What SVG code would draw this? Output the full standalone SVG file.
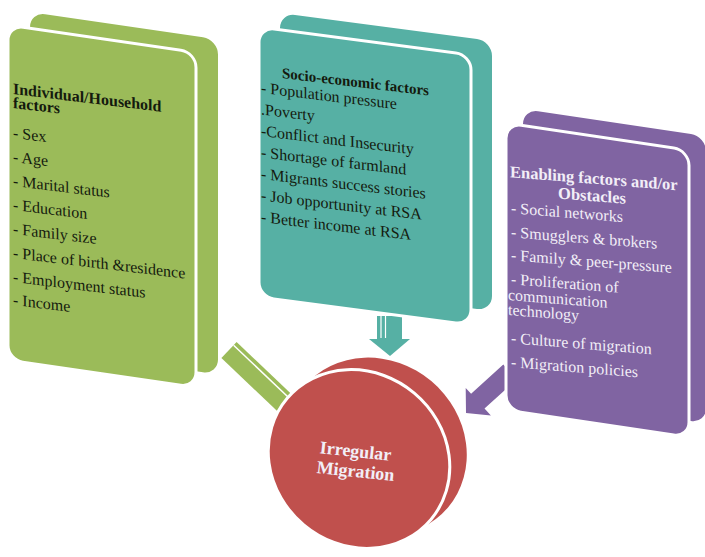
<svg xmlns="http://www.w3.org/2000/svg" width="705" height="557" viewBox="0 0 705 557">
  <style>
    .txt { font-family: "Liberation Serif", "Times New Roman", serif; font-size: 16px; }
    .head { font-weight: bold; }
    .dark { fill: #141a0e; }
    .light { fill: #f2eef7; }
    .green { fill: #9bbb59; }
    .teal { fill: #56b0a4; }
    .purple { fill: #8064a2; }
    .red { fill: #c0504d; }
    .face { stroke: #ffffff; stroke-width: 3; }
  </style>
  <rect width="705" height="557" fill="#ffffff"/>

  <!-- connectors: arrows leading into the central disc -->
  <g id="connectors">
    <g id="arrow-green">
      <polygon class="green" points="236.6,342 221.4,358 282.4,416 297.6,400"/>
      <line x1="233.6" y1="345.2" x2="294.6" y2="403.2" stroke="#ffffff" stroke-width="1.5"/>
    </g>
    <g id="arrow-teal">
      <rect class="teal" x="377" y="316" width="25" height="25"/>
      <polygon class="teal" points="369,339 410,339 390,356"/>
      <line x1="381" y1="316" x2="381" y2="338" stroke="#ffffff" stroke-width="1.2"/>
      <line x1="385.5" y1="316" x2="385.5" y2="338" stroke="#ffffff" stroke-width="1.2"/>
    </g>
    <g id="arrow-purple">
      <polygon class="purple" points="503.3,364.6 471.1,393.8 465.7,387.9 466,413 490.9,415.5 484.5,408.6 516.7,379.4"/>
    </g>
  </g>

  <!-- individual / household factors -->
  <g id="node-individual">
    <rect class="green" transform="translate(30,12) skewY(8.3)" width="188" height="335" rx="15"/>
    <rect class="green face" transform="translate(8,25) skewY(8.3)" width="188" height="335" rx="15"/>
    <g class="txt dark" transform="translate(13,0) skewY(6.8)">
      <text class="head" x="0" y="94">Individual/Household</text>
      <text class="head" x="0" y="108">factors</text>
      <text x="0" y="138">- Sex</text>
      <text x="0" y="162">- Age</text>
      <text x="0" y="186">- Marital status</text>
      <text x="0" y="210">- Education</text>
      <text x="0" y="234">- Family size</text>
      <text x="0" y="258">- Place of birth &amp;residence</text>
      <text x="0" y="282">- Employment status</text>
      <text x="0" y="305">- Income</text>
    </g>
  </g>

  <!-- socio-economic factors -->
  <g id="node-socio">
    <rect class="teal" transform="translate(280,13) skewY(7.5)" width="212" height="270" rx="15"/>
    <rect class="teal face" transform="translate(259,27) skewY(7.5)" width="212" height="270" rx="15"/>
    <g class="txt dark" transform="translate(261,0) skewY(6.8)">
      <text class="head" x="21" y="75.5" style="font-size:15px">Socio-economic factors</text>
      <text x="0" y="93">- Population pressure</text>
      <text x="0" y="114.5">.Poverty</text>
      <text x="0" y="136">-Conflict and Insecurity</text>
      <text x="0" y="157.5">- Shortage of farmland</text>
      <text x="0" y="179">- Migrants success stories</text>
      <text x="0" y="200.5">- Job opportunity at RSA</text>
      <text x="0" y="222">- Better income at RSA</text>
    </g>
  </g>

  <!-- enabling factors and obstacles -->
  <g id="node-enabling">
    <rect class="purple" transform="translate(523,109) skewY(8.5)" width="183" height="287" rx="15"/>
    <rect class="purple face" transform="translate(506,123) skewY(8.5)" width="183" height="287" rx="15"/>
    <g class="txt light" transform="translate(508,0) skewY(4.5)">
      <text class="head" x="2" y="177" style="font-size:16.5px">Enabling factors and/or</text>
      <text class="head" x="84" y="194.5" text-anchor="middle" style="font-size:16.5px">Obstacles</text>
      <text x="3" y="213">- Social networks</text>
      <text x="3" y="237">- Smugglers &amp; brokers</text>
      <text x="3" y="260">- Family &amp; peer-pressure</text>
      <text x="3" y="284">- Proliferation of</text>
      <text x="0" y="300">communication</text>
      <text x="0" y="315">technology</text>
      <text x="3" y="343">- Culture of migration</text>
      <text x="3" y="367">- Migration policies</text>
    </g>
  </g>

  <!-- central disc -->
  <g id="node-migration">
    <ellipse class="red" cx="376" cy="447" rx="94" ry="86" transform="rotate(40 376 447)"/>
    <ellipse class="red face" cx="359" cy="459" rx="94" ry="86" transform="rotate(40 359 459)"/>
    <g class="txt head light" style="font-size:18px" text-anchor="middle">
      <text transform="translate(355,457) rotate(6)">Irregular</text>
      <text transform="translate(355,477) rotate(6)">Migration</text>
    </g>
  </g>
</svg>
